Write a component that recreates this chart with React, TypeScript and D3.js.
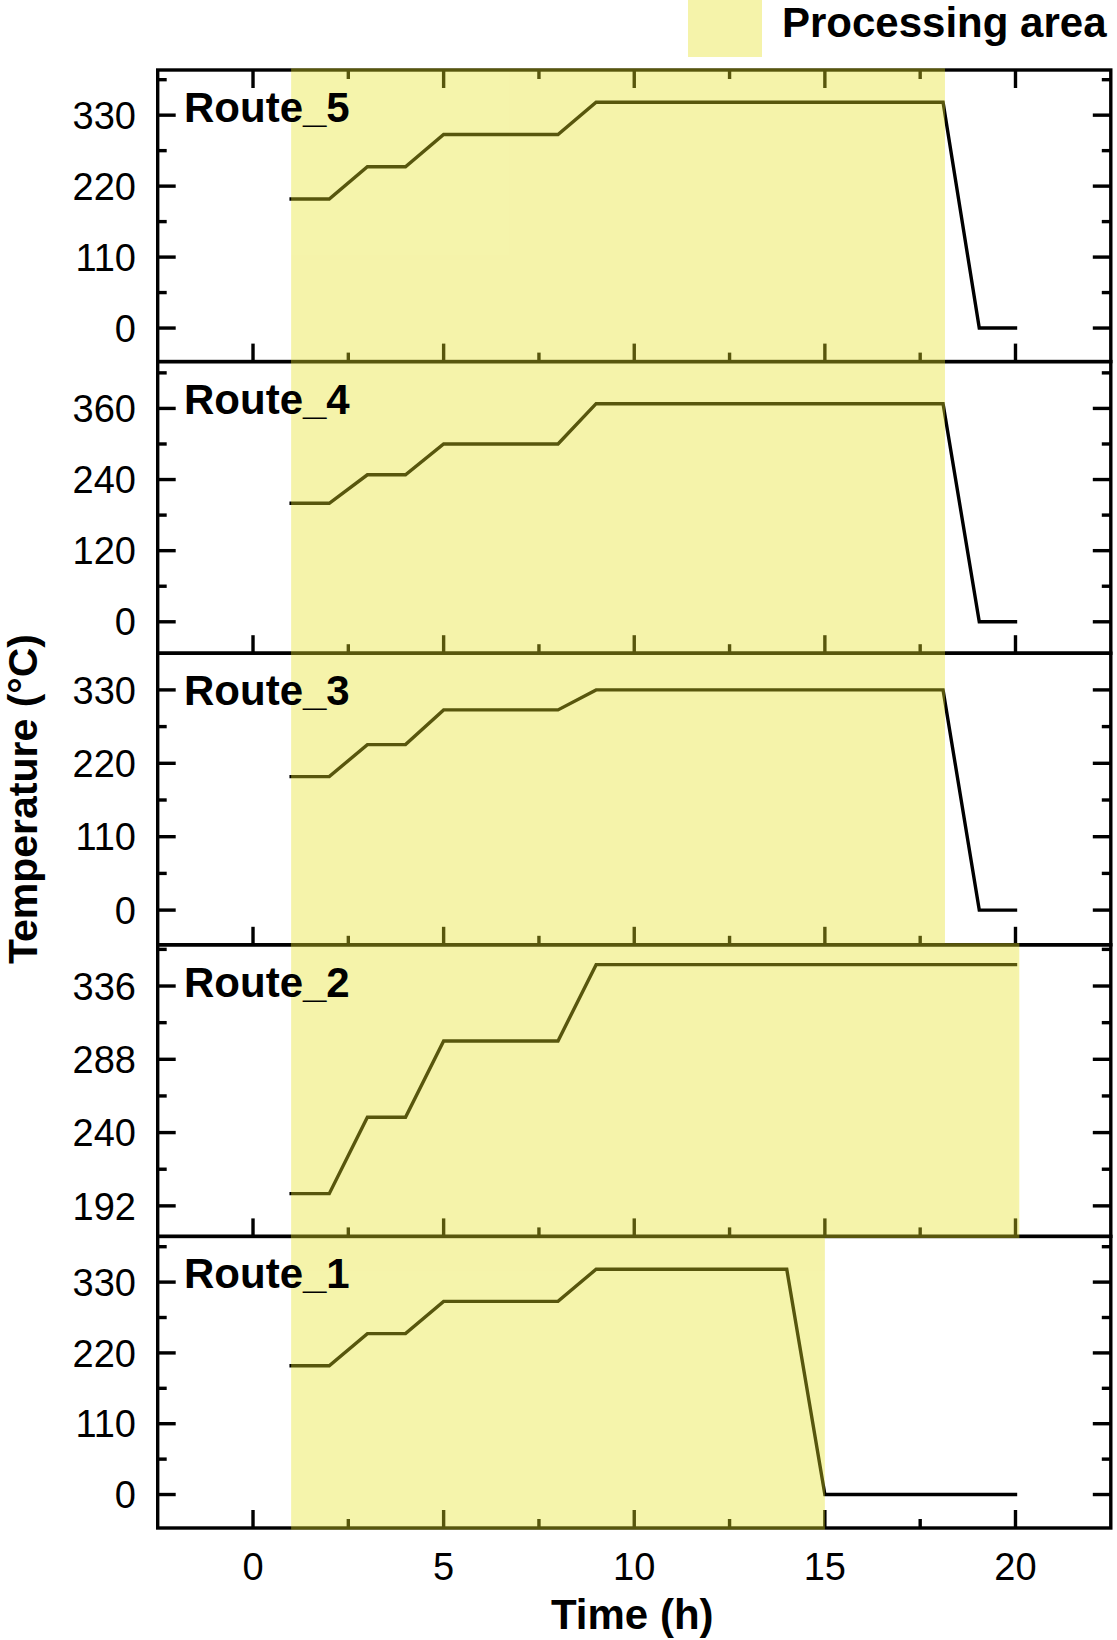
import React from "react";
import * as d3 from "d3";

// ---------- data ----------
const routeNames = ["Route_5", "Route_4", "Route_3", "Route_2", "Route_1"];

const route5Time = [1, 2, 3, 4, 5, 8, 9, 18.1, 19.05, 20];
const route5Temp = [200, 200, 250, 250, 300, 300, 350, 350, 0, 0];

const route4Time = [1, 2, 3, 4, 5, 8, 9, 18.1, 19.05, 20];
const route4Temp = [200, 200, 248, 248, 300, 300, 368, 368, 0, 0];

const route3Time = [1, 2, 3, 4, 5, 8, 9, 18.1, 19.05, 20];
const route3Temp = [200, 200, 248, 248, 300, 300, 330, 330, 0, 0];

const route2Time = [1, 2, 3, 4, 5, 8, 9, 20];
const route2Temp = [200, 200, 250, 250, 300, 300, 350, 350];

const route1Time = [1, 2, 3, 4, 5, 8, 9, 14, 15, 20];
const route1Temp = [200, 200, 250, 250, 300, 300, 350, 350, 0, 0];

const routeTimes = [route5Time, route4Time, route3Time, route2Time, route1Time];
const routeTemps = [route5Temp, route4Temp, route3Temp, route2Temp, route1Temp];

// processing (shaded) area per panel, in hours
const shadeStart = [1, 1, 1, 1, 1];
const shadeEnd = [18.15, 18.15, 18.15, 20.1, 15];

const yDomains = [
  [-52, 400],
  [-53, 439],
  [-52, 385],
  [172, 363],
  [-52, 401],
];
const yMajorTicks = [
  [0, 110, 220, 330],
  [0, 120, 240, 360],
  [0, 110, 220, 330],
  [192, 240, 288, 336],
  [0, 110, 220, 330],
];
const yMinorTicks = [
  [55, 165, 275, 385],
  [60, 180, 300, 420],
  [55, 165, 275],
  [216, 264, 312, 360],
  [55, 165, 275, 385],
];

const xDomain = [-2.5, 22.5];
const xMajorTicks = [0, 5, 10, 15, 20];
const xMinorTicks = [2.5, 7.5, 12.5, 17.5];

const xTitle = "Time (h)";
const yTitle = "Temperature (°C)";
const legendLabel = "Processing area";

// ---------- layout ----------
const W = 1117;
const H = 1640;
const LEFT = 157.7;
const RIGHT = 1110.8;
const TOP = 70;
const PANEL_H = 291.6;
const MAJOR = 18;
const MINOR = 9;
const SW = 3.4;
const FONT = "Arial, 'Liberation Sans', Helvetica, sans-serif";
const SHADE = "rgb(230,225,35)";
const SHADE_OPACITY = 0.38;

export default function App() {
  const x = d3.scaleLinear().domain(xDomain).range([LEFT, RIGHT]);
  const panels = routeNames.map((name, i) => {
    const top = TOP + i * PANEL_H;
    const bottom = top + PANEL_H;
    const y = d3.scaleLinear().domain(yDomains[i]).range([bottom, top]);
    const pts = routeTimes[i].map((t, k) => [t, routeTemps[i][k]] as [number, number]);
    const line = d3
      .line<[number, number]>()
      .x((d) => x(d[0]))
      .y((d) => y(d[1]));
    return { name, i, top, bottom, y, path: line(pts) || "" };
  });

  return (
    <svg
      width={W}
      height={H}
      viewBox={`0 0 ${W} ${H}`}
      style={{ position: "absolute", left: 0, top: 0, background: "#fff" }}
      fontFamily={FONT}
    >
      <rect x={0} y={0} width={W} height={H} fill="#fff" />

      {/* axes, ticks, data */}
      {panels.map((p) => (
        <g key={p.name}>
          <rect
            x={LEFT}
            y={p.top}
            width={RIGHT - LEFT}
            height={PANEL_H}
            fill="none"
            stroke="#000"
            strokeWidth={SW}
          />
          {xMajorTicks.map((t) => (
            <line key={"xb" + t} x1={x(t)} x2={x(t)} y1={p.bottom} y2={p.bottom - MAJOR} stroke="#000" strokeWidth={SW} />
          ))}
          {xMinorTicks.map((t) => (
            <line key={"xbm" + t} x1={x(t)} x2={x(t)} y1={p.bottom} y2={p.bottom - MINOR} stroke="#000" strokeWidth={SW} />
          ))}
          {p.i === 0 &&
            xMajorTicks.map((t) => (
              <line key={"xt" + t} x1={x(t)} x2={x(t)} y1={p.top} y2={p.top + MAJOR} stroke="#000" strokeWidth={SW} />
            ))}
          {p.i === 0 &&
            xMinorTicks.map((t) => (
              <line key={"xtm" + t} x1={x(t)} x2={x(t)} y1={p.top} y2={p.top + MINOR} stroke="#000" strokeWidth={SW} />
            ))}
          {yMajorTicks[p.i].map((t) => (
            <g key={"ym" + t}>
              <line x1={LEFT} x2={LEFT + MAJOR} y1={p.y(t)} y2={p.y(t)} stroke="#000" strokeWidth={SW} />
              <line x1={RIGHT} x2={RIGHT - MAJOR} y1={p.y(t)} y2={p.y(t)} stroke="#000" strokeWidth={SW} />
            </g>
          ))}
          {yMinorTicks[p.i].map((t) => (
            <g key={"yn" + t}>
              <line x1={LEFT} x2={LEFT + MINOR} y1={p.y(t)} y2={p.y(t)} stroke="#000" strokeWidth={SW} />
              <line x1={RIGHT} x2={RIGHT - MINOR} y1={p.y(t)} y2={p.y(t)} stroke="#000" strokeWidth={SW} />
            </g>
          ))}
          <path
            d={p.path}
            fill="none"
            stroke="#000"
            strokeWidth={3.4}
            strokeLinejoin="miter"
            strokeLinecap="square"
          />
        </g>
      ))}

      {/* translucent processing-area overlay */}
      <g opacity={SHADE_OPACITY}>
        {panels.map((p) => (
          <rect
            key={"s" + p.name}
            x={x(shadeStart[p.i])}
            y={p.top - SW / 2}
            width={x(shadeEnd[p.i]) - x(shadeStart[p.i])}
            height={PANEL_H + SW}
            fill={SHADE}
          />
        ))}
        <rect x={688} y={0} width={74} height={57} fill={SHADE} />
      </g>

      {/* labels */}
      {panels.map((p) => (
        <g key={"l" + p.name}>
          <text x={184} y={p.top + 52} fontSize={42} fontWeight="bold" fill="#000">
            {p.name}
          </text>
          {yMajorTicks[p.i].map((t) => (
            <text
              key={"yl" + t}
              x={136}
              y={p.y(t)}
              dy="0.36em"
              textAnchor="end"
              fontSize={38}
              fill="#000"
            >
              {t}
            </text>
          ))}
        </g>
      ))}

      {xMajorTicks.map((t) => (
        <text key={"xl" + t} x={x(t)} y={1580} textAnchor="middle" fontSize={38} fill="#000">
          {t}
        </text>
      ))}

      <text x={x(10) - 2} y={1629} textAnchor="middle" fontSize={42} fontWeight="bold" fill="#000">
        {xTitle}
      </text>
      <text
        transform={`translate(37, ${TOP + (PANEL_H * 5) / 2}) rotate(-90)`}
        textAnchor="middle"
        fontSize={41}
        fontWeight="bold"
        fill="#000"
      >
        {yTitle}
      </text>

      <text x={782} y={37} fontSize={42} fontWeight="bold" fill="#000">
        {legendLabel}
      </text>
    </svg>
  );
}
